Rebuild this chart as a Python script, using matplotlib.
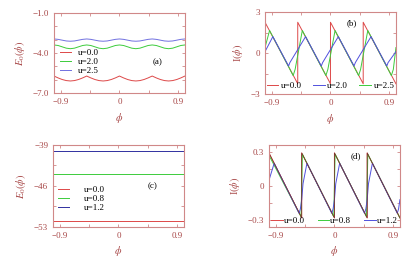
import numpy as np
import matplotlib
matplotlib.use("Agg")
import matplotlib.pyplot as plt
from matplotlib.ticker import FixedLocator

plt.rcParams['font.family'] = ['Liberation Serif', 'DejaVu Serif']
plt.rcParams['mathtext.fontset'] = 'stix'

# ---- data ----
# (a) ground state energy, sampled every 0.0625 in phi from -1 to 1
phi_a = np.linspace(-1, 1, 33)
ea_u00 = [-5.73, -5.87, -5.99, -6.07, -6.10, -6.07, -5.99, -5.87] * 4 + [-5.73]
ea_u20 = [-3.40, -3.44, -3.54, -3.64, -3.68, -3.64, -3.54, -3.44] * 4 + [-3.40]
ea_u25 = [-2.95, -2.98, -3.04, -3.10, -3.12, -3.10, -3.04, -2.98] * 4 + [-2.95]

# (b) current, vertices
phi_b_u00 = [-1.0, -0.5, -0.5, 0.0, 0.0, 0.5, 0.5, 1.0]
ib_u00 = [2.25, -2.25, 2.25, -2.25, 2.25, -2.25, 2.25, -2.25]
phi_b_u20 = [-1.0, -0.88, -0.64, -0.62, -0.38, -0.14, -0.12, 0.12, 0.36, 0.38, 0.62, 0.86, 0.88, 1.0]
ib_u20 = [0.1, 1.2, -0.95, -0.7, 1.2, -0.95, -0.7, 1.2, -0.95, -0.7, 1.2, -0.95, -0.7, 0.1]
phi_b_u25 = [-1.0, -0.93, -0.57, -0.54, -0.43, -0.07, -0.04, 0.07, 0.43, 0.46, 0.57, 0.93, 0.96, 1.0]
ib_u25 = [0.4, 1.65, -1.65, -1.2, 1.65, -1.65, -1.2, 1.65, -1.65, -1.2, 1.65, -1.65, -1.2, 0.4]

# (c) ground state energy, second system
phi_c = [-1.0, -0.5, 0.0, 0.5, 1.0]
ec_u00 = [-52.0, -52.0, -52.0, -52.0, -52.0]
ec_u08 = [-44.0, -44.0, -44.0, -44.0, -44.0]
ec_u12 = [-40.0, -40.0, -40.0, -40.0, -40.0]

# (d) current, second system
phi_d_u00 = [-1.0, -0.5, -0.5, 0.0, 0.0, 0.5, 0.5, 1.0]
id_u00 = [0.29, -0.28, 0.29, -0.28, 0.29, -0.28, 0.29, -0.28]
phi_d_u08 = [-1.0, -0.51, -0.49, -0.01, 0.01, 0.49, 0.51, 1.0]
id_u08 = [0.27, -0.27, 0.28, -0.27, 0.28, -0.27, 0.28, -0.28]
phi_d_u12 = [-1.0, -0.92, -0.54, -0.52, -0.5, -0.48, -0.42, -0.04, -0.02, 0.0, 0.02, 0.08,
             0.46, 0.48, 0.5, 0.52, 0.58, 0.96, 0.98, 1.0]
id_u12 = [0.05, 0.2, -0.24, -0.2, -0.12, 0.02, 0.2, -0.24, -0.2, -0.12, 0.02, 0.2,
          -0.24, -0.2, -0.12, 0.02, 0.2, -0.24, -0.2, -0.12]

RED = '#dd4848'
GREEN = '#3ccc3c'
BLUE = '#5050dd'
SPINE = '#d08888'
TXT = '#a84848'

fig = plt.figure(figsize=(4.17, 2.59), dpi=100)
ax_a = fig.add_axes([0.1295, 0.641, 0.314, 0.309])
ax_b = fig.add_axes([0.6355, 0.637, 0.314, 0.3166])
ax_c = fig.add_axes([0.127, 0.1236, 0.314, 0.3166])
ax_d = fig.add_axes([0.645, 0.1236, 0.314, 0.3166])


def style(ax, ymaj, ymin, ylim, yfmt, ylabel, xpad):
    ax.set_xlim(-1.0, 1.0)
    ax.set_ylim(*ylim)
    ax.xaxis.set_major_locator(FixedLocator([-0.9, 0, 0.9]))
    ax.xaxis.set_minor_locator(FixedLocator([-0.45, 0.45]))
    ax.set_xticklabels(['\u22120.9', '0', '0.9'])
    ax.yaxis.set_major_locator(FixedLocator(ymaj))
    ax.yaxis.set_minor_locator(FixedLocator(ymin))
    ax.set_yticklabels([yfmt(v) for v in ymaj])
    ax.tick_params(which='both', direction='in', top=True, right=True,
                   colors=SPINE, labelcolor=TXT, labelsize=6.5, width=0.6, length=2.5)
    for s in ax.spines.values():
        s.set_color(SPINE)
        s.set_linewidth(0.8)
    ax.set_xlabel(r'$\phi$', color=TXT, fontsize=7.5, labelpad=xpad)
    ax.set_ylabel(ylabel, color=TXT, fontsize=7.5, labelpad=4)


def fmt_num(v, nd):
    s = f'{abs(v):.{nd}f}'
    return ('\u2212' + s) if v < 0 else s


lw = 0.7
# (a)
ax_a.plot(phi_a, ea_u00, color=RED, lw=lw, label='u=0.0')
ax_a.plot(phi_a, ea_u20, color=GREEN, lw=lw, label='u=2.0')
ax_a.plot(phi_a, ea_u25, color='#7070e0', lw=lw, label='u=2.5')
style(ax_a, [-1.0, -4.0, -7.0], [-2, -3, -5, -6], (-7.0, -1.0),
      lambda v: fmt_num(v, 1), r'$E_0(\phi)$', 4)
ax_a.legend(loc='center left', bbox_to_anchor=(-0.02, 0.39), frameon=False,
            fontsize=6.5, handlelength=1.3, labelspacing=0.05, handletextpad=0.7)
ax_a.text(0.75, 0.39, '(a)', transform=ax_a.transAxes, fontsize=6.5, va='center')

# (b)
ax_b.plot(phi_b_u00, ib_u00, color=RED, lw=lw, label='u=0.0')
ax_b.plot(phi_b_u25, ib_u25, color=GREEN, lw=lw, label='u=2.5')
ax_b.plot(phi_b_u20, ib_u20, color=BLUE, lw=lw, label='u=2.0')
style(ax_b, [3, 0, -3], [1.5, -1.5], (-3, 3),
      lambda v: fmt_num(v, 0), r'I$(\phi)$', 3.5)
h, l = ax_b.get_legend_handles_labels()
ax_b.legend([h[0], h[2], h[1]], [l[0], l[2], l[1]], loc='lower center', ncol=3,
            frameon=False, fontsize=6.5, handlelength=1.3, columnspacing=1.2,
            handletextpad=0.3, borderaxespad=0.05)
ax_b.text(0.62, 0.86, '(b)', transform=ax_b.transAxes, fontsize=6.5, va='center')

# (c)
ax_c.plot(phi_c, ec_u00, color=RED, lw=lw, label='u=0.0')
ax_c.plot(phi_c, ec_u08, color=GREEN, lw=lw, label='u=0.8')
ax_c.plot(phi_c, ec_u12, color='#3030a0', lw=lw, label='u=1.2')
style(ax_c, [-39, -46, -53], [-42.5, -49.5], (-53, -39),
      lambda v: fmt_num(v, 0), r'$E_0(\phi)$', 3)
ax_c.legend(loc='center left', bbox_to_anchor=(-0.02, 0.34), frameon=False,
            fontsize=6.5, handlelength=1.2, labelspacing=0.1, handletextpad=1.6)
ax_c.text(0.72, 0.5, '(c)', transform=ax_c.transAxes, fontsize=6.5, va='center')

# (d)
ax_d.plot(phi_d_u00, id_u00, color=RED, lw=lw, label='u=0.0')
ax_d.plot(phi_d_u08, id_u08, color=GREEN, lw=lw, label='u=0.8')
ax_d.plot(phi_d_u12, id_u12, color=BLUE, lw=lw, label='u=1.2')
ax_d.plot(phi_d_u00, id_u00, color='#7a2a2a', lw=0.5)
style(ax_d, [0.3, 0, -0.3], [0.15, -0.15], (-0.36, 0.36),
      lambda v: fmt_num(v, 1) if v != 0 else '0', r'I$(\phi)$', 3)
ax_d.legend(loc='lower center', ncol=3, frameon=False, fontsize=6.5,
            handlelength=1.3, columnspacing=1.4, handletextpad=0.1, borderaxespad=-0.2)
ax_d.text(0.62, 0.86, '(d)', transform=ax_d.transAxes, fontsize=6.5, va='center')

fig.savefig('out.png', dpi=100)
